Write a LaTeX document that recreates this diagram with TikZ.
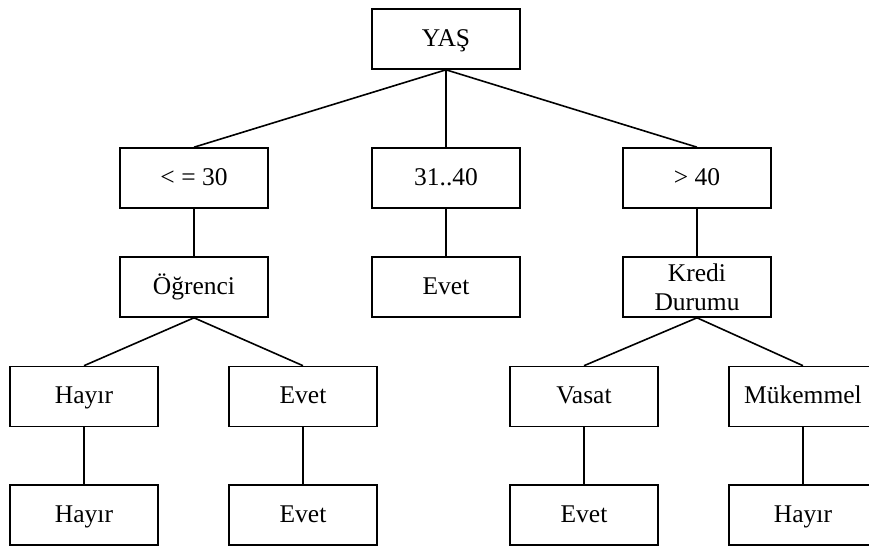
\documentclass[tikz,border=0pt]{standalone}
\usepackage{fontspec}
\setmainfont{Liberation Serif}
\begin{document}
\begin{tikzpicture}[x=1pt,y=-1pt,
  boxbase/.style={draw, line width=1.6pt, minimum width=148pt, minimum height=60pt,
    inner sep=0pt, align=center, font=\fontsize{25.5}{29}\selectfont},
  box/.style={boxbase, text height=18pt, text depth=4pt},
  link/.style={line width=1.6pt}]
\clip (0,0) rectangle (869,546);
\fill[white] (0,0) rectangle (869,546);

% root
\node[box] (yas) at (446,39) {YAŞ};

% age ranges
\node[box] (le30) at (194,178) {< = 30};
\node[box] (mid)  at (446,178) {31..40};
\node[box] (gt40) at (697,178) {> 40};

% second level
\node[box] (ogr)   at (194,287) {Öğrenci};
\node[box] (evetm) at (446,287) {Evet};
\node[boxbase] (kredi) at (697,287) {Kredi\\Durumu};

% third level
\node[box] (hayir1) at (84,396.5)  {Hayır};
\node[box] (evet1)  at (303,396.5) {Evet};
\node[box] (vasat)  at (584,396.5) {Vasat};
\node[box] (muk)    at (803,396.5) {Mükemmel};

% leaves
\node[box] (hayir2) at (84,515)  {Hayır};
\node[box] (evet2)  at (303,515) {Evet};
\node[box] (evet3)  at (584,515) {Evet};
\node[box] (hayir3) at (803,515) {Hayır};

% connectors
\draw[link] (yas.south) -- (le30.north);
\draw[link] (yas.south) -- (mid.north);
\draw[link] (yas.south) -- (gt40.north);
\draw[link] (le30.south) -- (ogr.north);
\draw[link] (mid.south) -- (evetm.north);
\draw[link] (gt40.south) -- (kredi.north);
\draw[link] (ogr.south) -- (hayir1.north);
\draw[link] (ogr.south) -- (evet1.north);
\draw[link] (kredi.south) -- (vasat.north);
\draw[link] (kredi.south) -- (muk.north);
\draw[link] (hayir1.south) -- (hayir2.north);
\draw[link] (evet1.south) -- (evet2.north);
\draw[link] (vasat.south) -- (evet3.north);
\draw[link] (muk.south) -- (hayir3.north);
\end{tikzpicture}
\end{document}
